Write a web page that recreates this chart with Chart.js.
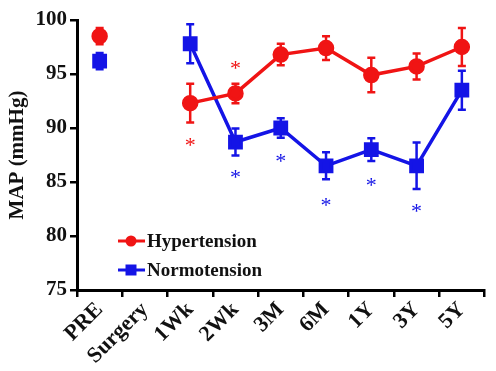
<!DOCTYPE html>
<html>
<head>
<meta charset="utf-8">
<script src="https://cdn.jsdelivr.net/npm/chart.js@4"></script>
<style>
  html, body { margin: 0; padding: 0; background: #fff; }
  #wrap { width: 496px; height: 371px; }
</style>
</head>
<body>
<div id="wrap"><canvas id="chartMAP"></canvas></div>
<script>
// Datos
const etiquetas = ['PRE', 'Surgery', '1Wk', '2Wk', '3M', '6M', '1Y', '3Y', '5Y'];
const hiperValores = [98.5, null, 92.3, 93.2, 96.8, 97.4, 94.9, 95.7, 97.5];
const hiperError = [0.75, null, 1.8, 0.9, 1.0, 1.1, 1.6, 1.2, 1.75];
const normoValores = [96.2, null, 97.8, 88.7, 90.0, 86.5, 88.0, 86.5, 93.5];
const normoError = [0.75, null, 1.8, 1.25, 0.9, 1.25, 1.05, 2.15, 1.8];
// posición de los asteriscos (valor en el eje Y)
const hiperAsterisco = [null, null, 88.7, 95.8, null, null, null, null, null];
const normoAsterisco = [null, null, null, 85.7, 87.2, 83.1, 85.0, 82.6, null];
const ticksY = [75, 80, 85, 90, 95, 100];

const ROJO = '#f01414';
const AZUL = '#1414e6';
const FUENTE = '"Liberation Serif", "Times New Roman", serif';

// Barras de error, asteriscos y leyenda
const extrasPlugin = {
    id: 'extras',
    beforeDatasetsDraw(chart) {
        const ctx = chart.ctx;
        const x = chart.scales.x, y = chart.scales.y;
        const series = [[hiperValores, hiperError, ROJO], [normoValores, normoError, AZUL]];
        ctx.save();
        series.forEach(([vals, errs, color]) => {
            ctx.strokeStyle = color;
            ctx.lineWidth = 2.5;
            vals.forEach((v, i) => {
                if (v === null) return;
                const px = x.getPixelForValue(i);
                const top = y.getPixelForValue(v + errs[i]);
                const bot = y.getPixelForValue(v - errs[i]);
                ctx.beginPath();
                ctx.moveTo(px, top); ctx.lineTo(px, bot);
                ctx.moveTo(px - 4, top); ctx.lineTo(px + 4, top);
                ctx.moveTo(px - 4, bot); ctx.lineTo(px + 4, bot);
                ctx.stroke();
            });
        });
        ctx.restore();
    },
    afterDatasetsDraw(chart) {
        const ctx = chart.ctx;
        const x = chart.scales.x, y = chart.scales.y;
        ctx.save();
        ctx.font = '22px ' + FUENTE;
        ctx.textAlign = 'center';
        ctx.textBaseline = 'middle';
        [[hiperAsterisco, ROJO], [normoAsterisco, AZUL]].forEach(([arr, color]) => {
            ctx.fillStyle = color;
            arr.forEach((v, i) => {
                if (v === null) return;
                ctx.fillText('*', x.getPixelForValue(i), y.getPixelForValue(v) + 4);
            });
        });

        // leyenda
        const items = [['Hypertension', ROJO, 'circle'], ['Normotension', AZUL, 'rect']];
        ctx.font = 'bold 19px ' + FUENTE;
        ctx.textAlign = 'left';
        items.forEach(([txt, color, forma], k) => {
            const ly = 241 + k * 29;
            ctx.strokeStyle = color;
            ctx.fillStyle = color;
            ctx.lineWidth = 3;
            ctx.beginPath();
            ctx.moveTo(118, ly); ctx.lineTo(145, ly);
            ctx.stroke();
            ctx.beginPath();
            if (forma === 'circle') ctx.arc(131, ly, 5.5, 0, Math.PI * 2);
            else ctx.rect(125.5, ly - 5.5, 11, 11);
            ctx.fill();
            ctx.fillStyle = '#111';
            ctx.fillText(txt, 147, ly + 1);
        });
        ctx.restore();
    }
};

new Chart(document.getElementById('chartMAP').getContext('2d'), {
    type: 'line',
    data: {
        labels: etiquetas,
        datasets: [
            {
                label: 'Hypertension',
                data: hiperValores,
                borderColor: ROJO,
                backgroundColor: ROJO,
                borderWidth: 3.5,
                pointStyle: 'circle',
                pointRadius: 6.5,
                pointHoverRadius: 6.5,
                spanGaps: false,
                tension: 0
            },
            {
                label: 'Normotension',
                data: normoValores,
                borderColor: AZUL,
                backgroundColor: AZUL,
                borderWidth: 3.5,
                pointStyle: 'rect',
                pointRadius: 8,
                pointHoverRadius: 8,
                spanGaps: false,
                tension: 0
            }
        ]
    },
    options: {
        responsive: true,
        maintainAspectRatio: false,
        animation: false,
        layout: { padding: { top: 20, right: 0, left: 0, bottom: 0 } },
        plugins: { legend: { display: false }, tooltip: { enabled: false } },
        scales: {
            x: {
                offset: true,
                grid: { display: true, drawOnChartArea: false, color: '#000', lineWidth: 2.5, tickLength: 7, offset: true },
                border: { color: '#000', width: 3 },
                ticks: {
                    color: '#111',
                    font: { family: FUENTE, size: 22, weight: 'bold' },
                    minRotation: 45, maxRotation: 45, padding: 0, autoSkip: false
                },
                afterFit: s => { s.height = 81; }
            },
            y: {
                min: 75, max: 100,
                afterBuildTicks: s => { s.ticks = ticksY.map(v => ({ value: v })); },
                grid: { display: true, drawOnChartArea: false, color: '#000', lineWidth: 2.5, tickLength: 7 },
                border: { color: '#000', width: 3 },
                ticks: {
                    color: '#111',
                    font: { family: FUENTE, size: 21, weight: 'bold' },
                    padding: 3
                },
                title: {
                    display: true,
                    text: 'MAP (mmHg)',
                    color: '#111',
                    font: { family: FUENTE, size: 21, weight: 'bold' },
                    padding: { top: 5, bottom: 0 }
                },
                afterFit: s => { s.width = 77; }
            }
        }
    },
    plugins: [extrasPlugin]
});
</script>
</body>
</html>
